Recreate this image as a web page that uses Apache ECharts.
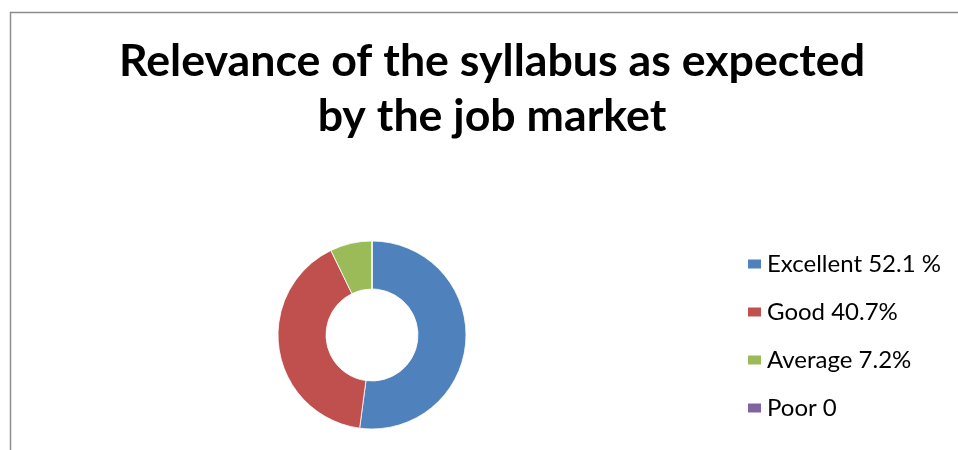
<!DOCTYPE html>
<html>
<head>
<meta charset="utf-8">
<script src="https://cdn.jsdelivr.net/npm/echarts@6/dist/echarts.min.js"></script>
<style>html,body{margin:0;padding:0;background:#fff;}#chart{width:958px;height:450px;}</style>
</head>
<body>
<div id="chart"></div>
<script>
const titleText = 'Relevance of the syllabus as expected\nby the job market';
const categories = ['Excellent 52.1 %', 'Good 40.7%', 'Average 7.2%', 'Poor 0'];
const values = [52.1, 40.7, 7.2, 0];
const colors = ['#4F81BD', '#C0504D', '#9BBB59', '#8064A2'];

const chart = echarts.init(document.getElementById('chart'), null, {renderer: 'canvas'});
chart.setOption({
  animation: false,
  color: colors,
  graphic: [{
    type: 'rect', silent: true,
    shape: {x: 10.5, y: 12.5, width: 1000, height: 500},
    style: {fill: 'none', stroke: '#8c8c8c', lineWidth: 1.5}
  }],
  title: {
    text: titleText,
    left: 487, textAlign: 'center', top: 29,
    textStyle: {fontFamily: 'Lato', fontWeight: 'bold', fontSize: 44.7, lineHeight: 55, color: '#000'}
  },
  legend: {
    orient: 'vertical', left: 741, top: 247,
    itemWidth: 15, itemHeight: 11, itemGap: 24,
    icon: 'rect',
    selectedMode: false,
    textStyle: {fontFamily: 'Lato', fontSize: 24, color: '#000', padding: [0,0,0,0]},
    data: categories
  },
  series: [{
    type: 'pie',
    center: [372, 335],
    radius: [46, 94],
    startAngle: 90,
    clockwise: true,
    label: {show: false},
    labelLine: {show: false},
    silent: true,
    itemStyle: {borderColor: '#fff', borderWidth: 0.8},
    data: categories.map((c, i) => ({name: c, value: values[i]}))
  }]
});
</script>
</body>
</html>
